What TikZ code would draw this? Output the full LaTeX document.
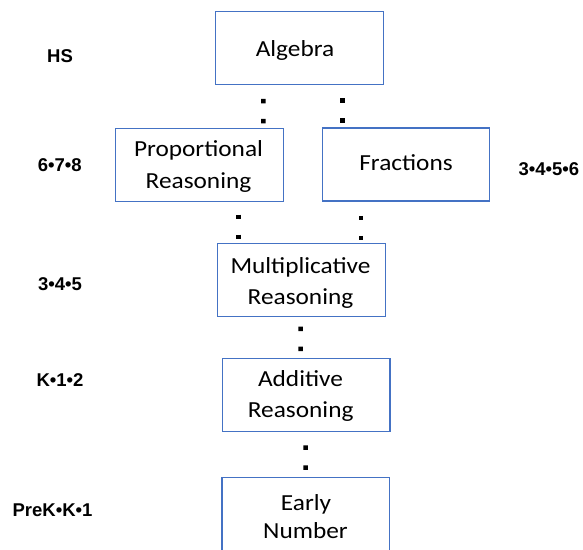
\documentclass[tikz,border=0pt]{standalone}
\usepackage{fontspec}
\newfontfamily\boxfont[FakeStretch=1.1]{Carlito}
\newfontfamily\lblfont{Liberation Sans}
\definecolor{boxblue}{RGB}{68,114,196}
\begin{document}
\begin{tikzpicture}[x=1pt,y=-1pt,
  box/.style={draw=boxblue,line width=1.2pt,rectangle,minimum width=167.7pt,minimum height=73pt,inner sep=0pt,outer sep=0pt},
  boxtext/.style={anchor=base,inner sep=0pt,font=\boxfont\fontsize{23}{31}\selectfont},
  grade/.style={anchor=base,inner sep=0pt,font=\lblfont\bfseries\fontsize{18.5}{22}\selectfont},
  dotlink/.style={line width=4.5pt,dash pattern=on 4.5pt off 15.5pt}]
\useasboundingbox (0,0) rectangle (583,549);
\clip (0,0) rectangle (583,549);
% boxes
\node[box] (alg) at (299.4,47.9) {};
\node[box] (pr) at (199.5,165.1) {};
\node[box] (fr) at (406,164.5) {};
\node[box] (mult) at (301.5,279.7) {};
\node[box] (add) at (306.1,394.6) {};
\node[box] (early) at (305.8,514.2) {};
% box texts
\node[boxtext] (t1) at (295,56) {Algebra};
\node[boxtext] (t2) at (198.5,156.7) {Proportional};
\node[boxtext] (t3) at (198.5,188.3) {Reasoning};
\node[boxtext] (t4) at (406,170) {Fractions};
\node[boxtext] (t5) at (300.5,273.3) {Multiplicative};
\node[boxtext] (t6) at (300.5,304) {Reasoning};
\node[boxtext] (t7) at (300.5,386.7) {Additive};
\node[boxtext] (t8) at (300.7,417.7) {Reasoning};
\node[boxtext] (t9) at (306,510) {Early};
\node[boxtext] (t10) at (305.5,538.3) {Number};
% grade labels
\node[grade] (g1) at (60,62.3) {HS};
\node[grade] (g2) at (59.7,171.7) {6•7•8};
\node[grade] (g3) at (548.8,175) {3•4•5•6};
\node[grade] (g4) at (60,290) {3•4•5};
\node[grade] (g5) at (60,386) {K•1•2};
\node[grade] (g6) at (52.5,516.7) {PreK•K•1};
% dotted links
\draw[dotlink,shorten <=14.45pt,shorten >=3.5pt] ([xshift=-36.1pt]alg.south) -- ([xshift=63.8pt]pr.north);
\draw[dotlink,shorten <=13.75pt,shorten >=3.2pt] ([xshift=43.3pt]alg.south) -- ([xshift=-63.3pt]fr.north);
\draw[dotlink,shorten <=12.95pt,shorten >=2pt] ([xshift=39pt]pr.south) -- ([xshift=-63pt]mult.north);
\draw[dotlink,shorten <=14.95pt,shorten >=0.5pt] ([xshift=-45pt]fr.south) -- ([xshift=59.5pt]mult.north);
\draw[dotlink,shorten <=10.45pt,shorten >=4.5pt] ([xshift=-0.8pt]mult.south) -- ([xshift=-5.4pt]add.north);
\draw[dotlink,shorten <=14.15pt,shorten >=5.5pt] ([xshift=-0.4pt]add.south) -- ([xshift=-0.1pt]early.north);
\end{tikzpicture}
\end{document}
